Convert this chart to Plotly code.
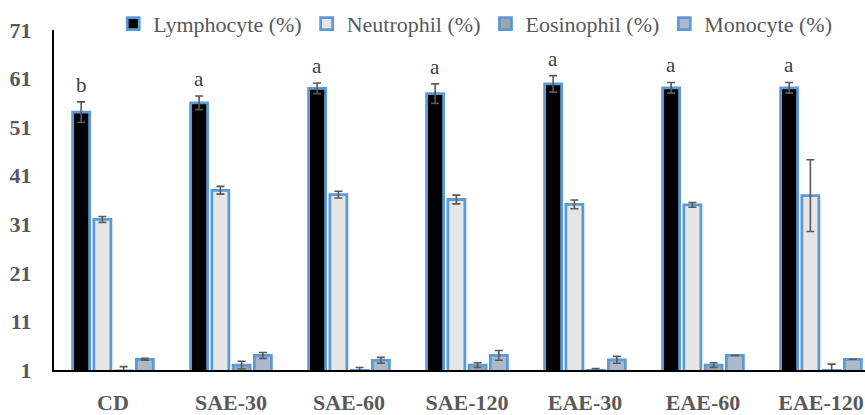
import plotly.graph_objects as go

# Treatment groups and blood cell differential (%), mean ± SD
groups = ["CD", "SAE-30", "SAE-60", "SAE-120", "EAE-30", "EAE-60", "EAE-120"]

lymphocyte = [54.1, 56.0, 59.0, 57.9, 59.9, 59.1, 59.1]
lymphocyte_err = [2.1, 1.4, 1.1, 2.0, 1.7, 1.1, 1.1]

neutrophil = [32.0, 38.0, 37.1, 36.1, 35.1, 35.0, 36.9]
neutrophil_err = [0.6, 0.8, 0.7, 0.9, 0.9, 0.5, 7.4]

eosinophil = [0.8, 2.0, 0.9, 2.0, 0.9, 2.0, 0.9]
eosinophil_err = [0.9, 0.8, 0.6, 0.5, 0.4, 0.5, 1.3]

monocyte = [3.2, 4.0, 3.0, 4.0, 3.1, 4.0, 3.2]
monocyte_err = [0.2, 0.6, 0.6, 1.0, 0.7, 0.0, 0.0]

# Significance letters above the lymphocyte bars
letters = ["b", "a", "a", "a", "a", "a", "a"]

tick_vals = [1, 11, 21, 31, 41, 51, 61, 71]

BORDER = "#5B9BD5"
ERR = "#595959"
TEXT = "#595959"
SERIF = "Liberation Serif, Times New Roman, serif"

series = [
    ("Lymphocyte (%)", lymphocyte, lymphocyte_err, "#000000"),
    ("Neutrophil (%)", neutrophil, neutrophil_err, "#E7E6E6"),
    ("Eosinophil (%)", eosinophil, eosinophil_err, "#A5A5A5"),
    ("Monocyte (%)", monocyte, monocyte_err, "#ADB9CA"),
]

fig = go.Figure()
for name, vals, errs, fill in series:
    fig.add_trace(go.Bar(
        name=name,
        x=groups,
        y=vals,
        marker=dict(color=fill, line=dict(color=BORDER, width=2.8)),
        error_y=dict(type="data", array=errs, visible=True,
                     color=ERR, thickness=1.6, width=4),
    ))

BARGAP = 0.28
n_series = len(series)
slot = (1 - BARGAP) / n_series
lymph_offset = -(1 - BARGAP) / 2 + slot / 2

for i, (letter, v, e) in enumerate(zip(letters, lymphocyte, lymphocyte_err)):
    fig.add_annotation(
        x=i + lymph_offset, y=v + e, xref="x", yref="y",
        text=letter, showarrow=False, yanchor="bottom", yshift=3,
        font=dict(family=SERIF, size=21, color="#404040"),
    )

fig.update_layout(
    width=865, height=415,
    margin=dict(l=54, r=0, t=30, b=39),
    paper_bgcolor="white", plot_bgcolor="white",
    barmode="group", bargap=BARGAP, bargroupgap=0.2,
    showlegend=True,
    legend=dict(
        orientation="h", x=0.073, xanchor="left", y=1.018, yanchor="middle",
        font=dict(family=SERIF, size=22, color=TEXT),
        itemwidth=30, bgcolor="rgba(0,0,0,0)",
    ),
    font=dict(family=SERIF, color=TEXT),
)

fig.update_xaxes(
    range=[-0.5, 6.5 - 15 / 118],
    showline=True, linecolor="black", linewidth=2,
    ticks="outside", ticklen=12, tickcolor="rgba(0,0,0,0)",
    tickfont=dict(family=SERIF, size=22, color=TEXT, weight="bold"),
    showgrid=False, zeroline=False,
)
fig.update_yaxes(
    range=[1, 71], tickvals=tick_vals, ticktext=[str(t) for t in tick_vals],
    showline=True, linecolor="black", linewidth=2,
    ticks="outside", ticklen=16, tickcolor="rgba(0,0,0,0)",
    tickfont=dict(family=SERIF, size=22, color=TEXT, weight="bold"),
    showgrid=False, zeroline=False,
)

fig.write_html("out.html")
